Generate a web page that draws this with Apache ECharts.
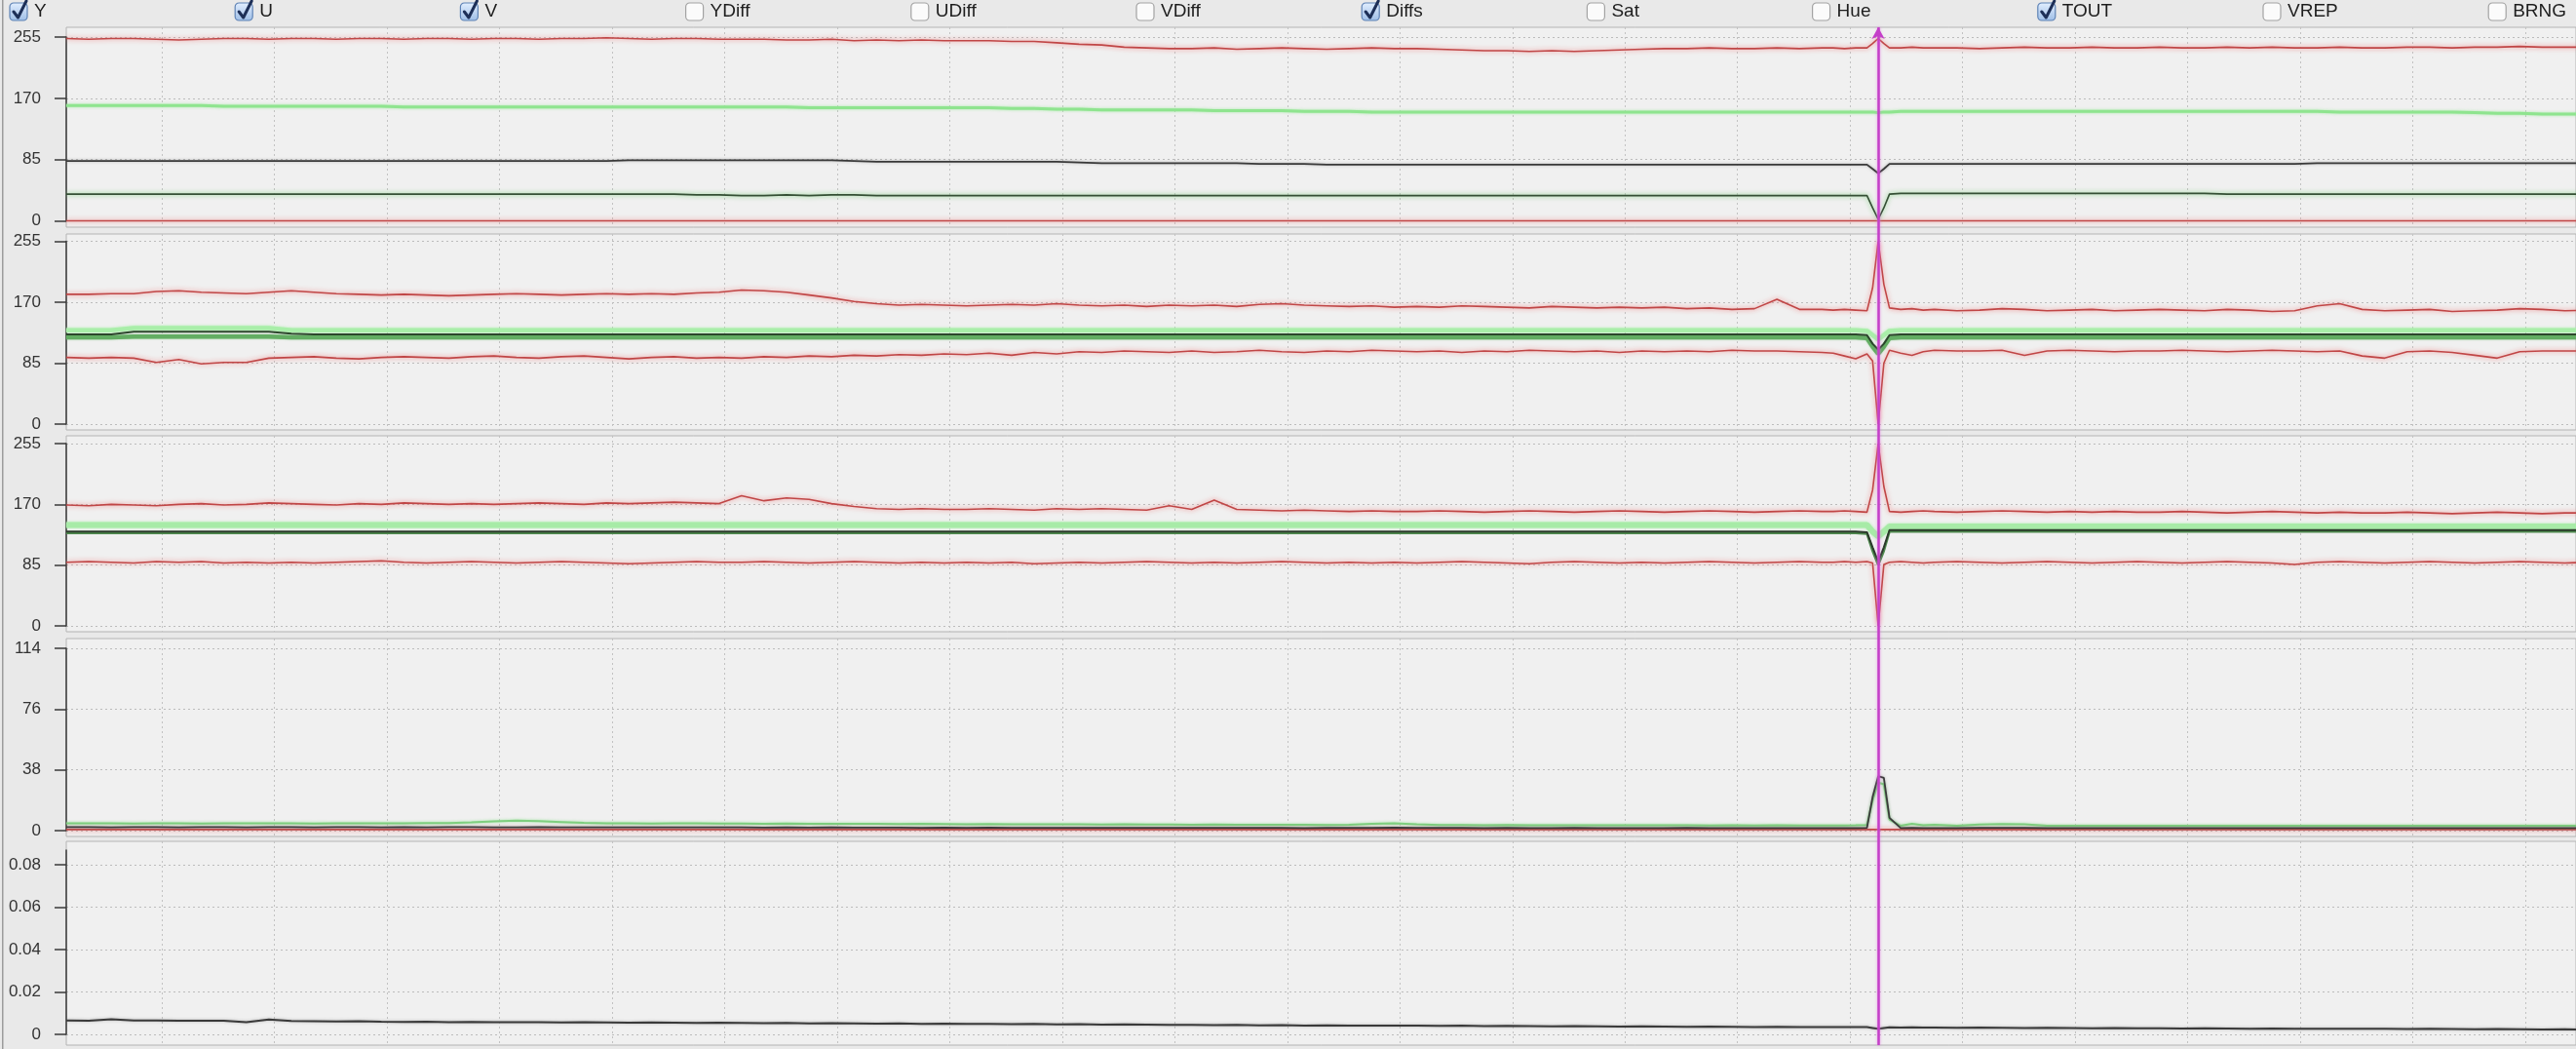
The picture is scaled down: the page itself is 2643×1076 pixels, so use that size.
<!DOCTYPE html>
<html><head><meta charset="utf-8">
<script src="https://cdn.jsdelivr.net/npm/echarts/dist/echarts.min.js"></script>
<style>html,body{margin:0;padding:0;background:#e9e9e9;overflow:hidden}#c{width:2643px;height:1076px}</style>
</head><body><div id="c"></div>
<script>
// ---------- data ----------
const frames = [
 0,2,4,6,8,10,12,14,16,18,
 20,22,24,26,28,30,32,34,36,38,
 40,42,44,46,48,50,52,54,56,58,
 60,62,64,66,68,70,72,74,76,78,
 80,82,84,86,88,90,92,94,96,98,
 100,102,104,106,108,110,112,114,116,118,
 120,122,124,126,128,130,132,134,136,138,
 140,142,144,146,148,150,152,154,156,
 157,158,159,160,160.5,161,161.5,162,163,164,165,
 166,168,170,172,174,176,178,180,182,184,
 186,188,190,192,194,196,198,200,202,204,
 206,208,210,212,214,216,218,220,222,224];
const xGridTicks = [8.5,18.5,28.5,38.5,48.5,58.5,68.5,78.5,88.5,98.5,108.5,118.5,128.5,138.5,148.5,158.5,168.5,178.5,188.5,198.5,208.5,218.5];
const cursorFrame = 161;
const toggleLabels = ['Y','U','V','YDiff','UDiff','VDiff','Diffs','Sat','Hue','TOUT','VREP','BRNG'];
const toggleChecked = [1,1,1,0,0,0,1,0,0,1,0,0];
const yTicksYUV = [0,85,170,255];
const yTicksDiffs = [0,38,76,114];
const yTicksTout = [0,0.02,0.04,0.06,0.08];

// Panel 1 : Y
const YMAX = [253,252,253,253,252,251,252,253,253,252, 253,253,252,253,253,252,253,253,252,253, 253,252,253,253,254,253,252,253,253,252, 252,252,251,251,252,250,251,250,251,250, 250,250,249,249,247,245,244,241,240,239, 239,240,238,239,240,239,238,239,240,239, 239,238,237,236,236,235,236,235,236,237, 238,239,239,240,239,239,240,239,240, 240,239,240,240,246,253,246,240,240,241,240, 240,240,239,240,241,240,240,241,240,240, 241,240,240,241,240,241,240,240,241,240, 240,241,241,240,241,241,242,241,241,241];
const YHIGH = [160,160,160,160,160,160,160,159,159,159, 159,159,159,159,159,158,158,158,158,158, 158,158,158,158,158,158,158,158,158,158, 158,158,158,157,157,157,157,157,157,157, 157,157,156,156,155,155,154,154,154,154, 154,153,153,153,153,152,152,152,151,151, 151,151,151,151,151,151,151,151,151,151, 151,151,151,151,151,151,151,151,151, 151,151,151,151,151,150,151,151,152,152,152, 152,152,152,152,152,152,152,152,152,152, 152,152,152,152,152,152,152,152,151,151, 151,151,151,151,150,149,149,148,148,148];
const YAVG = [83,83,83,83,83,83,83,83,83,83, 83,83,83,83,83,83,83,83,83,83, 83,83,83,83,83,84,84,84,84,84, 84,84,84,84,84,83,82,82,82,82, 82,82,82,82,82,81,80,80,80,80, 80,80,80,79,79,79,78,78,78,78, 78,78,78,78,78,78,78,78,78,78, 78,78,78,78,78,78,78,78,78, 78,78,78,78,72,66,72,79,79,79,79, 79,79,79,79,79,79,79,79,79,79, 79,79,79,79,79,79,79,80,80,80, 80,80,80,80,80,80,80,80,80,80];
const YLOW = [37,37,37,37,37,37,37,37,37,37, 37,37,37,37,37,37,37,37,37,37, 37,37,37,37,37,37,37,37,36,36, 35,35,36,35,36,36,35,35,35,35, 35,35,35,35,35,35,35,35,35,35, 35,35,35,35,35,35,35,35,35,35, 35,35,35,35,35,35,35,35,35,35, 35,35,35,35,35,35,35,35,35, 35,35,35,35,18,2,18,37,38,38,38, 38,38,38,38,38,38,38,38,38,38, 38,38,38,37,37,37,37,37,37,37, 37,37,37,37,37,37,37,37,37,37];
const YMIN = [0,0,0,0,0,0,0,0,0,0, 0,0,0,0,0,0,0,0,0,0, 0,0,0,0,0,0,0,0,0,0, 0,0,0,0,0,0,0,0,0,0, 0,0,0,0,0,0,0,0,0,0, 0,0,0,0,0,0,0,0,0,0, 0,0,0,0,0,0,0,0,0,0, 0,0,0,0,0,0,0,0,0, 0,0,0,0,0,0,0,0,0,0,0, 0,0,0,0,0,0,0,0,0,0, 0,0,0,0,0,0,0,0,0,0, 0,0,0,0,0,0,0,0,0,0];

// Panel 2 : U
const UMAX = [181,181,182,182,185,186,184,183,182,184, 186,184,182,181,180,181,180,179,180,181, 182,181,180,181,182,181,182,181,183,184, 187,186,184,180,176,171,168,166,167,166, 165,166,167,166,168,166,165,166,164,166, 165,166,164,167,168,166,165,164,165,163, 164,163,165,164,163,162,164,163,162,163, 162,163,161,162,160,161,174,160,160, 159,160,159,158,190,255,195,162,160,161,159, 160,158,159,161,160,158,159,160,158,159, 160,159,158,160,159,157,158,165,168,160, 158,159,160,157,158,159,161,160,158,159];
const UHIGH = [131,131,131,134,134,134,134,134,134,134, 131,131,131,131,131,131,131,131,131,131, 131,131,131,131,131,131,131,131,131,131, 131,131,131,131,131,131,131,131,131,131, 131,131,131,131,131,131,131,131,131,131, 131,131,131,131,131,131,131,131,131,131, 131,131,131,131,131,131,131,131,131,131, 131,131,131,131,131,131,131,131,131, 131,131,131,130,124,118,124,130,131,131,131, 131,131,131,131,131,131,131,131,131,131, 131,131,131,131,131,131,131,131,131,131, 131,131,131,131,131,131,131,131,131,131];
const UAVG = [125,125,125,129,129,129,129,129,129,129, 126,125,125,125,125,125,125,125,125,125, 125,125,125,125,125,125,125,125,125,125, 125,125,125,125,125,125,125,125,125,125, 125,125,125,125,125,125,125,125,125,125, 125,125,125,125,125,125,125,125,125,125, 125,125,125,125,125,125,125,125,125,125, 125,125,125,125,125,125,125,125,125, 125,125,125,124,112,104,112,124,125,125,125, 125,125,125,125,125,125,125,125,125,125, 125,125,125,125,125,125,125,125,125,125, 125,125,125,125,125,125,125,125,125,125];
const ULOW = [121,121,121,122,122,122,122,122,122,122, 121,121,121,121,121,121,121,121,121,121, 121,121,121,121,121,121,121,121,121,121, 121,121,121,121,121,121,121,121,121,121, 121,121,121,121,121,121,121,121,121,121, 121,121,121,121,121,121,121,121,121,121, 121,121,121,121,121,121,121,121,121,121, 121,121,121,121,121,121,121,121,121, 121,121,121,120,108,98,108,120,121,121,121, 121,121,121,121,121,121,121,121,121,121, 121,121,121,121,121,121,121,121,121,121, 121,121,121,121,121,121,121,121,121,121];
const UMIN = [93,92,93,92,86,90,84,86,86,92, 93,94,92,91,93,94,93,92,94,95, 93,92,94,95,93,91,93,94,92,93, 92,94,93,95,94,96,95,97,96,98, 97,99,96,100,98,101,100,102,101,100, 102,100,101,103,101,100,102,101,103,102, 101,102,100,102,101,103,102,101,102,100, 102,101,102,101,103,102,102,101,100, 99,95,91,98,88,0,85,103,99,96,101, 103,102,102,103,96,102,103,102,101,102, 102,103,102,101,102,103,102,101,102,95, 92,101,102,100,96,92,101,102,102,102];

// Panel 3 : V
const VMAX = [169,168,170,169,168,170,171,169,170,172, 171,170,169,171,170,172,171,170,171,170, 171,172,171,170,172,171,172,173,172,171, 182,175,179,177,171,167,164,163,164,163, 163,164,163,162,164,163,164,163,162,168, 163,176,163,162,161,162,161,160,161,160, 160,161,160,159,160,161,160,159,160,161, 160,159,160,161,160,159,160,161,160, 160,161,160,159,190,255,195,160,159,160,161, 160,159,160,161,160,159,160,159,160,159, 159,160,159,158,159,160,159,158,159,158, 158,159,158,157,158,159,158,157,158,158];
const VHIGH = [141,141,141,141,141,141,141,141,141,141, 141,141,141,141,141,141,141,141,141,141, 141,141,141,141,141,141,141,141,141,141, 141,141,141,141,141,141,141,141,141,141, 141,141,141,141,141,141,141,141,141,141, 141,141,141,141,141,141,141,141,141,141, 141,141,141,141,141,141,141,141,141,141, 141,141,141,141,141,141,141,141,141, 141,141,141,141,132,125,132,139,139,139,139, 139,139,139,139,139,139,139,139,139,139, 139,139,139,139,139,139,139,139,139,139, 139,139,139,139,139,139,139,139,139,139];
const VAVG = [132,132,132,132,132,132,132,132,132,132, 132,132,132,132,132,132,132,132,132,132, 132,132,132,132,132,132,132,132,132,132, 132,132,132,132,132,132,132,132,132,132, 132,132,132,132,132,132,132,132,132,132, 132,132,132,132,132,132,132,132,132,132, 132,132,132,132,132,132,132,132,132,132, 132,132,132,132,132,132,132,132,132, 132,132,132,131,110,90,110,134,134,134,134, 134,134,134,134,134,134,134,134,134,134, 134,134,134,134,134,134,134,134,134,134, 134,134,134,134,134,134,134,134,134,134];
const VLOW = [130,130,130,130,130,130,130,130,130,130, 130,130,130,130,130,130,130,130,130,130, 130,130,130,130,130,130,130,130,130,130, 130,130,130,130,130,130,130,130,130,130, 130,130,130,130,130,130,130,130,130,130, 130,130,130,130,130,130,130,130,130,130, 130,130,130,130,130,130,130,130,130,130, 130,130,130,130,130,130,130,130,130, 130,130,130,129,105,85,105,132,132,132,132, 132,132,132,132,132,132,132,132,132,132, 132,132,132,132,132,132,132,132,132,132, 132,132,132,132,132,132,132,132,132,132];
const VMIN = [89,90,89,88,90,89,90,88,89,88, 89,88,89,90,91,89,88,89,90,89, 88,89,90,89,88,87,88,89,90,89, 89,90,89,88,89,90,89,88,89,88, 89,88,89,87,88,89,88,89,90,89, 88,89,88,89,90,89,88,89,88,89, 88,89,90,89,88,87,89,90,89,88, 89,88,89,90,89,88,89,90,89, 89,90,89,90,88,0,86,89,90,89,88, 89,90,89,88,89,90,89,88,89,90, 89,88,89,90,89,88,86,89,90,89, 88,89,90,89,88,89,90,89,88,89];

// Panel 4 : Diffs
const DIFF_G = [4.5,4.5,4.6,4.4,4.5,4.5,4.4,4.5,4.6,4.5, 4.5,4.4,4.5,4.6,4.5,4.5,4.7,4.8,5.2,5.8, 6.2,5.9,5.4,4.9,4.6,4.5,4.4,4.5,4.5,4.4, 4.4,4.3,4.4,4.3,4.2,4.3,4.2,4.1,4.2,4.1, 4.0,4.1,4.0,3.9,4.0,3.9,3.8,3.9,3.8,3.8, 3.7,3.8,3.7,3.6,3.7,3.6,3.5,3.6,4.3,4.6, 4.0,3.5,3.5,3.4,3.5,3.4,3.4,3.3,3.4,3.3, 3.3,3.4,3.3,3.2,3.3,3.2,3.3,3.2,3.2, 3.2,3.2,3.3,3.5,19,30,29,7,3.0,4.3,3.4, 3.6,3.1,3.8,4.1,3.9,3.1,3.0,3.1,3.0,3.1, 3.0,3.1,3.0,3.1,3.0,3.1,3.0,3.1,3.0,3.1, 3.0,3.1,3.0,3.1,3.0,3.1,3.0,3.0,3.1,3.0];
const DIFF_K = [2.2,2.2,2.1,2.2,2.2,2.1,2.2,2.2,2.1,2.2, 2.2,2.1,2.2,2.2,2.1,2.2,2.1,2.2,2.2,2.1, 2.1,2.2,2.1,2.0,2.1,2.0,2.1,2.0,2.0,2.0, 2.0,1.9,2.0,1.9,2.0,1.9,1.9,1.9,1.8,1.9, 1.8,1.9,1.8,1.8,1.8,1.7,1.8,1.8,1.7,1.8, 1.7,1.8,1.7,1.7,1.7,1.6,1.7,1.7,1.8,1.9, 1.8,1.7,1.7,1.6,1.7,1.6,1.6,1.7,1.6,1.6, 1.6,1.6,1.7,1.6,1.6,1.6,1.6,1.6,1.6, 1.6,1.6,1.6,1.8,21,34,33,8,1.6,1.7,1.6, 1.6,1.6,1.7,1.7,1.7,1.6,1.6,1.6,1.6,1.6, 1.6,1.6,1.6,1.6,1.6,1.6,1.6,1.6,1.6,1.6, 1.6,1.6,1.6,1.6,1.6,1.6,1.6,1.6,1.6,1.6];
const DIFF_R = [0.7,0.7,0.7,0.7,0.7,0.7,0.7,0.7,0.7,0.7, 0.7,0.7,0.7,0.7,0.7,0.7,0.7,0.7,0.7,0.7, 0.7,0.7,0.7,0.7,0.7,0.7,0.7,0.7,0.7,0.7, 0.7,0.7,0.7,0.7,0.7,0.7,0.7,0.7,0.7,0.7, 0.7,0.7,0.7,0.7,0.7,0.7,0.7,0.7,0.7,0.7, 0.7,0.7,0.7,0.7,0.7,0.7,0.7,0.7,0.7,0.7, 0.7,0.7,0.7,0.7,0.7,0.7,0.7,0.7,0.7,0.7, 0.7,0.7,0.7,0.7,0.7,0.7,0.7,0.7,0.7, 0.7,0.7,0.7,0.7,0.7,0.7,0.7,0.7,0.7,0.7,0.7, 0.7,0.7,0.7,0.7,0.7,0.7,0.7,0.7,0.7,0.7, 0.7,0.7,0.7,0.7,0.7,0.7,0.7,0.7,0.7,0.7, 0.7,0.7,0.7,0.7,0.7,0.7,0.7,0.7,0.7,0.7];

// Panel 5 : TOUT
const TOUT = [0.0066,0.0064,0.0071,0.0066,0.0066,0.0065,0.0065,0.0064,0.0058,0.0070, 0.0063,0.0062,0.0061,0.0062,0.0060,0.0059,0.0060,0.0058,0.0059,0.0058, 0.0057,0.0058,0.0056,0.0057,0.0056,0.0055,0.0056,0.0055,0.0054,0.0055, 0.0054,0.0053,0.0054,0.0052,0.0053,0.0052,0.0051,0.0052,0.0050,0.0051, 0.0050,0.0049,0.0048,0.0049,0.0047,0.0048,0.0046,0.0047,0.0046,0.0045, 0.0045,0.0044,0.0045,0.0043,0.0044,0.0042,0.0043,0.0042,0.0041,0.0042, 0.0041,0.0040,0.0041,0.0039,0.0040,0.0039,0.0038,0.0039,0.0038,0.0037, 0.0038,0.0037,0.0036,0.0037,0.0036,0.0035,0.0036,0.0035,0.0034, 0.0035,0.0034,0.0035,0.0034,0.0030,0.0026,0.0030,0.0033,0.0032,0.0033,0.0032, 0.0032,0.0031,0.0032,0.0031,0.0030,0.0031,0.0030,0.0029,0.0030,0.0029, 0.0029,0.0028,0.0029,0.0028,0.0027,0.0028,0.0027,0.0026,0.0027,0.0026, 0.0026,0.0025,0.0026,0.0025,0.0024,0.0025,0.0024,0.0023,0.0024,0.0023];

// ---------- layout / styles ----------
const X_MAX = 223;
const panels = [
  {frameTop:28,  frameH:205, top:38,    h:188.5, max:255,   ticks:yTicksYUV},
  {frameTop:240, frameH:201, top:247.5, h:187.5, max:255,   ticks:yTicksYUV},
  {frameTop:447, frameH:201, top:455,   h:187,   max:255,   ticks:yTicksYUV},
  {frameTop:655, frameH:203, top:665,   h:187,   max:114,   ticks:yTicksDiffs},
  {frameTop:863, frameH:209, top:872,   h:189,   max:0.087, ticks:yTicksTout}
];
const FONT = 'Liberation Sans, Arial, sans-serif';
const RED = {color:'#c04646', width:1.6, shadowColor:'rgba(240,120,120,0.95)', shadowBlur:5};
const LGREEN = {color:'#8fe48f', width:3, shadowColor:'rgba(150,235,150,0.8)', shadowBlur:3};
const DGREEN = {color:'#344f34', width:1.6, shadowColor:'rgba(110,205,110,0.95)', shadowBlur:5};
const BLACK = {color:'#3a3a3a', width:1.8, shadowColor:'rgba(110,110,110,0.5)', shadowBlur:3};

const grids = [], xAxes = [], yAxes = [], series = [];
panels.forEach((p, i) => {
  grids.push({left:68, right:0, top:p.frameTop, height:p.frameH, show:true, backgroundColor:'#f0f0f0', borderColor:'#b4b4b4', borderWidth:1});
  xAxes.push({gridIndex:2*i, type:'value', min:0, max:X_MAX,
    axisLine:{show:false}, axisLabel:{show:false},
    axisTick:{show:false, customValues:xGridTicks},
    splitLine:{show:true, lineStyle:{color:'#c2c2c2', type:[2,3], width:1}}});
  yAxes.push({gridIndex:2*i, type:'value', min:0, max:1, show:false});
  grids.push({left:68, right:0, top:p.top, height:p.h});
  xAxes.push({gridIndex:2*i+1, type:'value', min:0, max:X_MAX, show:false});
  yAxes.push({gridIndex:2*i+1, type:'value', min:0, max:p.max, offset:6,
    axisLine:{show:true, lineStyle:{color:'#3a3a3a', width:1.5}},
    axisTick:{show:true, length:12, customValues:p.ticks, lineStyle:{color:'#3a3a3a', width:1.5}},
    axisLabel:{show:true, customValues:p.ticks, margin:20, color:'#333', fontSize:17, fontFamily:FONT},
    splitLine:{show:true, lineStyle:{color:'#bcbcbc', type:[2,3], width:1}}});
});
// overlay grid for the current-frame cursor
grids.push({left:68, right:0, top:28, bottom:4});
xAxes.push({gridIndex:10, type:'value', min:0, max:X_MAX, show:false});
yAxes.push({gridIndex:10, type:'value', min:0, max:1, show:false});

function line(panel, name, arr, style, z) {
  series.push({name, type:'line', xAxisIndex:2*panel+1, yAxisIndex:2*panel+1,
    data: frames.map((f, k) => [f, arr[k]]), symbol:'none', showSymbol:false,
    clip:false, silent:true, z:z || 2, lineStyle:style});
}
line(0,'YMIN',YMIN,RED); line(0,'YLOW',YLOW,DGREEN); line(0,'YAVG',YAVG,BLACK);
line(0,'YHIGH',YHIGH,LGREEN); line(0,'YMAX',YMAX,RED);
line(1,'UHIGH',UHIGH,{color:'#a9eea9', width:4.5, shadowColor:'rgba(160,240,160,0.8)', shadowBlur:3});
line(1,'ULOW',ULOW,{color:'#63ad63', width:4.5, shadowColor:'rgba(100,190,100,0.6)', shadowBlur:2});
line(1,'UAVG',UAVG,{color:'#2b462b', width:2});
line(1,'UMIN',UMIN,RED,3); line(1,'UMAX',UMAX,RED,3);
line(2,'VHIGH',VHIGH,{color:'#a7eba7', width:6, shadowColor:'rgba(160,240,160,0.8)', shadowBlur:3});
line(2,'VLOW',VLOW,{color:'#4e8a4e', width:2.5});
line(2,'VAVG',VAVG,{color:'#2b3a2b', width:2});
line(2,'VMIN',VMIN,RED,3); line(2,'VMAX',VMAX,RED,3);
line(3,'DIFF_R',DIFF_R,RED); line(3,'DIFF_G',DIFF_G,{color:'#7fcf7f', width:2, shadowColor:'rgba(140,225,140,0.8)', shadowBlur:3});
line(3,'DIFF_K',DIFF_K,BLACK,3);
line(4,'TOUT',TOUT,{color:'#3a3a3a', width:2, shadowColor:'rgba(110,110,110,0.5)', shadowBlur:3});
series.push({name:'cursor', type:'line', xAxisIndex:10, yAxisIndex:10, data:[], z:10, silent:true,
  markLine:{silent:true, animation:false, symbol:['none','arrow'], symbolSize:[10,12],
    label:{show:false}, lineStyle:{color:'#c43fc9', width:2.5, type:'solid', shadowColor:'rgba(230,120,230,0.8)', shadowBlur:3},
    data:[{xAxis:cursorFrame}]}});

// checkbox strip
const graphics = [{type:'rect', shape:{x:2, y:0, width:1.5, height:1076}, style:{fill:'#9c9c9c'}, silent:true}];
toggleLabels.forEach((lab, i) => {
  const x = 10 + 231.2 * i, y = 3;
  const on = toggleChecked[i] === 1;
  graphics.push({type:'rect', shape:{x:x, y:y, width:18, height:18, r:4}, silent:true,
    style:{fill: on ? new echarts.graphic.LinearGradient(0,0,0,1,[{offset:0,color:'#e3efff'},{offset:1,color:'#9dbde6'}]) : '#fbfbfb',
      stroke: on ? '#5f83b5' : '#a3a3a3', lineWidth:1.2}});
  if (on) graphics.push({type:'polyline', shape:{points:[[x+4,y+9],[x+8.5,y+15],[x+17,y-2]]}, silent:true,
    style:{stroke:'#1d2f57', lineWidth:3, fill:null, lineJoin:'round', lineCap:'round'}});
  graphics.push({type:'text', x:x+25, y:y+9, silent:true,
    style:{text:lab, fill:'#1e1e1e', font:'19px ' + FONT, verticalAlign:'middle', align:'left'}});
});

const chart = echarts.init(document.getElementById('c'), null, {renderer:'canvas', width:2643, height:1076});
chart.setOption({backgroundColor:'#e9e9e9', animation:false, grid:grids, xAxis:xAxes, yAxis:yAxes, series:series, graphic:graphics});
</script></body></html>
